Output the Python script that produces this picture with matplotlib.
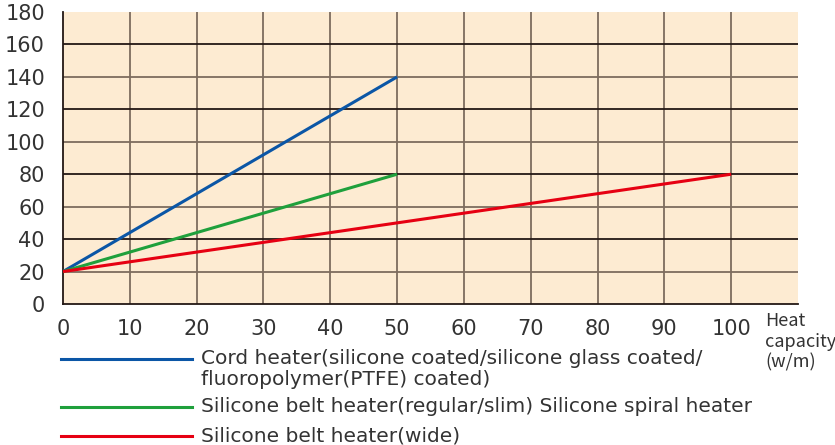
import matplotlib
matplotlib.use("Agg")
import matplotlib.pyplot as plt
from matplotlib.lines import Line2D

plt.rcParams['font.family'] = ['DejaVu Sans']

# data
x_ticks = [0, 10, 20, 30, 40, 50, 60, 70, 80, 90, 100]
y_ticks = [0, 20, 40, 60, 80, 100, 120, 140, 160, 180]

cord_x = [0, 50]
cord_y = [20, 140]
belt_x = [0, 50]
belt_y = [20, 80]
wide_x = [0, 100]
wide_y = [20, 80]

labels = [
    "Cord heater(silicone coated/silicone glass coated/\nfluoropolymer(PTFE) coated)",
    "Silicone belt heater(regular/slim) Silicone spiral heater",
    "Silicone belt heater(wide)",
]
colors = ["#0b56a6", "#1fa03c", "#e60012"]

BG = "#fdebd2"
DARK = "#231815"
BROWN = "#7d6c5e"
TXT = "#333333"

fig = plt.figure(figsize=(8.35, 4.45), dpi=100)
ax = fig.add_axes([63 / 835, 1 - 304 / 445, (798 - 63) / 835, (304 - 12) / 445])
ax.set_facecolor(BG)
ax.set_xlim(0, 110)
ax.set_ylim(0, 180)

# grid
for xv in x_ticks[1:]:
    ax.axvline(xv, color=BROWN, lw=1.3, zorder=1)
for yv in y_ticks[1:-1]:
    c = DARK if yv % 40 == 0 else BROWN
    ax.axhline(yv, color=c, lw=1.3, zorder=1)

for sp in ['top', 'right']:
    ax.spines[sp].set_visible(False)
ax.spines['left'].set_color(DARK)
ax.spines['bottom'].set_color(DARK)
ax.spines['left'].set_linewidth(1.3)
ax.spines['bottom'].set_linewidth(1.3)

ax.set_xticks(x_ticks)
ax.set_yticks(y_ticks)
ax.tick_params(length=0, labelsize=15, labelcolor=TXT)
ax.tick_params(axis='y', pad=13)
ax.tick_params(axis='x', pad=11)

ax.plot(cord_x, cord_y, color=colors[0], lw=2.2, zorder=3, solid_capstyle='butt')
ax.plot(belt_x, belt_y, color=colors[1], lw=2.2, zorder=3, solid_capstyle='butt')
ax.plot(wide_x, wide_y, color=colors[2], lw=2.2, zorder=3, solid_capstyle='butt')

# axis title at right
fig.text(765 / 835, 1 - 312 / 445, "Heat\ncapacity\n(w/m)", fontsize=13, color=TXT,
         family=['Noto Sans CJK JP', 'DejaVu Sans'],
         va='top', ha='left', linespacing=1.2)

# manual legend
leg_y = [359, 407, 436]
for yp, lab, c in zip(leg_y, labels, colors):
    fy = 1 - yp / 445
    fig.add_artist(Line2D([61 / 835, 192 / 835], [fy, fy], color=c, lw=2.2,
                          transform=fig.transFigure))
    fig.text(201 / 835, 1 - (yp - 10) / 445, lab, fontsize=14.5, color=TXT,
             va='top', ha='left', linespacing=1.12)

fig.savefig("out.png", dpi=100)
